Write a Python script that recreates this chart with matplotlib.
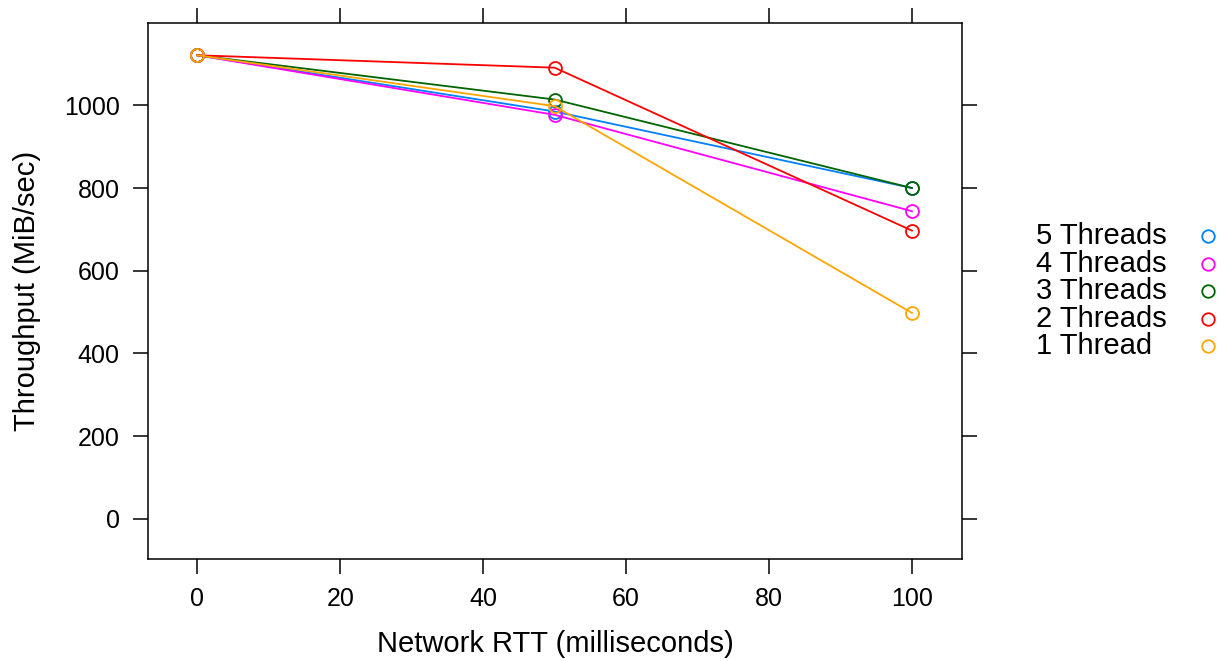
import matplotlib
matplotlib.use("Agg")
import matplotlib.pyplot as plt
from matplotlib.lines import Line2D

plt.rcParams["font.family"] = ["Liberation Sans", "DejaVu Sans"]

# Network round-trip time (ms) and measured throughput (MiB/sec) per thread count
rtt = [0, 50, 100]
series_names = ["5 Threads", "4 Threads", "3 Threads", "2 Threads", "1 Thread"]
tp_5 = [1121, 985, 800]
tp_4 = [1121, 977, 744]
tp_3 = [1121, 1014, 800]
tp_2 = [1121, 1091, 697]
tp_1 = [1121, 998, 498]
series_values = [tp_5, tp_4, tp_3, tp_2, tp_1]
colors = ["#0080ff", "#ff00ff", "#006400", "#ff0000", "#ffa500"]

x_ticks = [0, 20, 40, 60, 80, 100]
y_ticks = [0, 200, 400, 600, 800, 1000]

fig = plt.figure(figsize=(12.2, 6.61), dpi=100)
ax = fig.add_axes([0.1213, 0.1543, 0.6672, 0.8109])

for vals, col in zip(series_values, colors):
    ax.plot(rtt, vals, color=col, lw=1.3, marker="o", markersize=9.3,
            markerfacecolor="none", markeredgecolor=col, markeredgewidth=1.3,
            clip_on=False)

ax.set_xlim(-6.9, 107)
ax.set_ylim(-97, 1199)
ax.set_xticks(x_ticks)
ax.set_yticks(y_ticks)
ax.tick_params(axis="both", which="both", direction="out", length=10.5, width=1.1,
               labelsize=18, pad=10, top=True, right=True,
               labeltop=False, labelright=False, color="black")
for sp in ax.spines.values():
    sp.set_linewidth(1.1)

ax.set_xlabel("Network RTT (milliseconds)", fontsize=21, labelpad=13)
ax.set_ylabel("Throughput (MiB/sec)", fontsize=21, labelpad=16)

# Key to the right of the panel: labels left-aligned, open circles in a column
row_y = [236, 263.5, 291, 318.5, 346]
H = 661.0
W = 1220.0
for name, col, yy in zip(series_names, colors, row_y):
    fy = 1 - yy / H
    fig.text(1036 / W, fy, name, fontsize=21, ha="left", va="center")
    fig.add_artist(Line2D([1208 / W], [fy], transform=fig.transFigure,
                          marker="o", markersize=9, markerfacecolor="none",
                          markeredgecolor=col, markeredgewidth=1.3, linestyle="none"))

fig.savefig("out.png", dpi=100)
